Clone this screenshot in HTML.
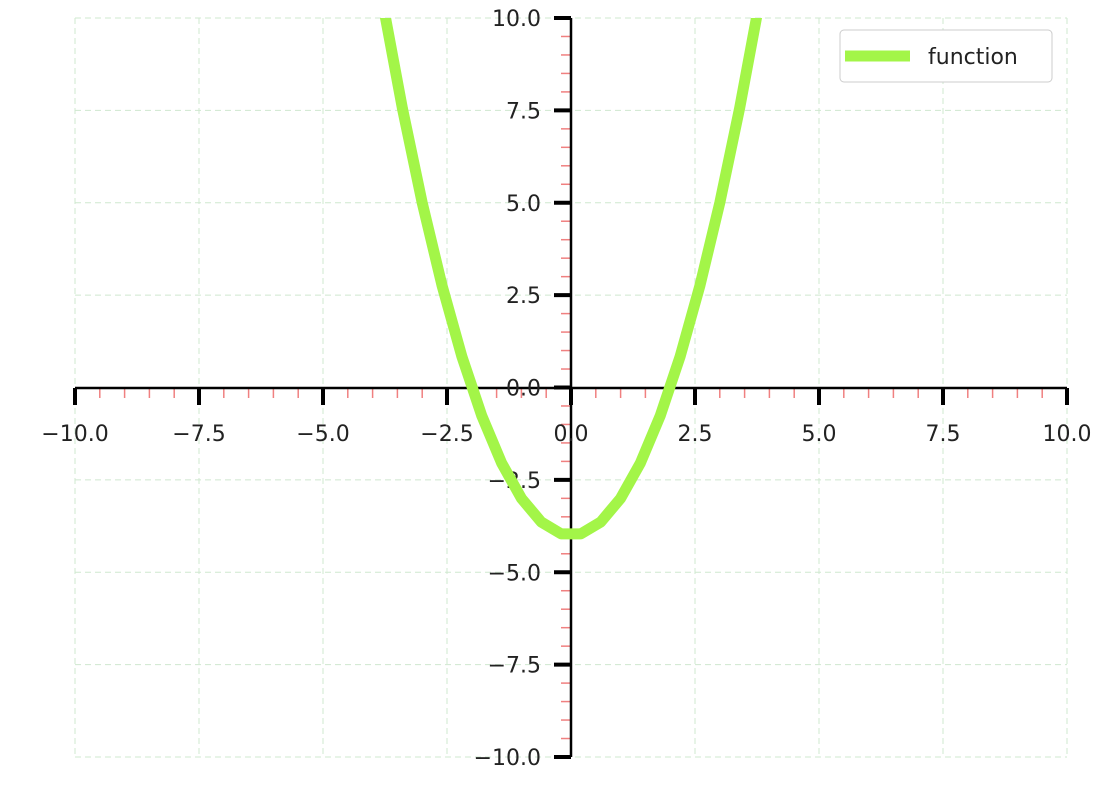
<!DOCTYPE html>
<html><head><meta charset="utf-8"><style>
body{margin:0;background:#fff;}
svg{display:block;font-family:"DejaVu Sans","Liberation Sans",sans-serif;}
</style></head><body>
<svg id="chart" width="1110" height="796">
<defs><clipPath id="clip"><rect x="75" y="18" width="992" height="739"/></clipPath></defs>
<g id="grid"></g>
<g id="axes"></g>
<g id="series" clip-path="url(#clip)"></g>
<g>
<rect x="840" y="30" width="212" height="52" rx="4" fill="#fff" stroke="#ccc"/>
<line x1="845" y1="56" x2="910" y2="56" stroke="#a3f548" stroke-width="11"/>
<text x="928" y="64" font-size="22" fill="#222">function</text>
</g>
</svg>
<script>
const xTicks=[-10,-7.5,-5,-2.5,0,2.5,5,7.5,10];
const yTicks=[-10,-7.5,-5,-2.5,0,2.5,5,7.5,10];
const tickLabels=["\u221210.0","\u22127.5","\u22125.0","\u22122.5","0.0","2.5","5.0","7.5","10.0"];
const xs=[-5,-4.6,-4.2,-3.8,-3.4,-3.0,-2.6,-2.2,-1.8,-1.4,-1.0,-0.6,-0.2,0.2,0.6,1.0,1.4,1.8,2.2,2.6,3.0,3.4,3.8,4.2,4.6,5];
const ys=[21,17.16,13.64,10.44,7.56,5,2.76,0.84,-0.76,-2.04,-3,-3.64,-3.96,-3.96,-3.64,-3,-2.04,-0.76,0.84,2.76,5,7.56,10.44,13.64,17.16,21];
const NS="http://www.w3.org/2000/svg";
const sx=v=>571+v*49.6, sy=v=>387.5-v*36.95;
function mk(tag,attrs,parent){const e=document.createElementNS(NS,tag);for(const k in attrs)e.setAttribute(k,attrs[k]);parent.appendChild(e);return e;}
const grid=document.getElementById('grid'),axes=document.getElementById('axes'),series=document.getElementById('series');
xTicks.forEach(v=>{const l=mk('line',{x1:sx(v),x2:sx(v),y1:18,y2:757,stroke:'#cfe8cf','stroke-dasharray':'6 4','stroke-width':1},grid);

});
yTicks.forEach(v=>{const l=mk('line',{x1:75,x2:1067,y1:sy(v),y2:sy(v),stroke:'#cfe8cf','stroke-dasharray':'6 4','stroke-width':1},grid);

});
for(let v=-10;v<=10.001;v+=0.5){
 if(Math.abs(v/2.5-Math.round(v/2.5))<1e-6)continue;
 const a=mk('line',{x1:sx(v),x2:sx(v),y1:388,y2:398,stroke:'#f08080','stroke-width':1.5},axes);
 
 
 const b=mk('line',{x1:561,x2:571,y1:sy(v),y2:sy(v),stroke:'#f08080','stroke-width':1.5},axes);
 
 
}
const xa=mk('line',{x1:75,x2:1067,y1:388,y2:388,stroke:'#000','stroke-width':2.5},axes);


const ya=mk('line',{x1:571,x2:571,y1:18,y2:757,stroke:'#000','stroke-width':2.5},axes);


xTicks.forEach((v,i)=>{
 const t=mk('line',{x1:sx(v),x2:sx(v),y1:388,y2:405,stroke:'#000','stroke-width':4},axes);
 
 
 const tx=mk('text',{x:sx(v),y:441,'font-size':22,'text-anchor':'middle',fill:'#222'},axes);
 tx.textContent=tickLabels[i];
 
 
});
yTicks.forEach((v,i)=>{
 const t=mk('line',{x1:554,x2:571,y1:sy(v),y2:sy(v),stroke:'#000','stroke-width':4},axes);
 
 
 const tx=mk('text',{x:541,y:sy(v)+8,'font-size':22,'text-anchor':'end',fill:'#222'},axes);
 tx.textContent=tickLabels[i];
 
 
});
const pl=mk('polyline',{points:xs.map((x,i)=>sx(x)+','+sy(ys[i])).join(' '),fill:'none',stroke:'#a3f548','stroke-width':11,'stroke-linejoin':'round'},series);


</script>
</body></html>
